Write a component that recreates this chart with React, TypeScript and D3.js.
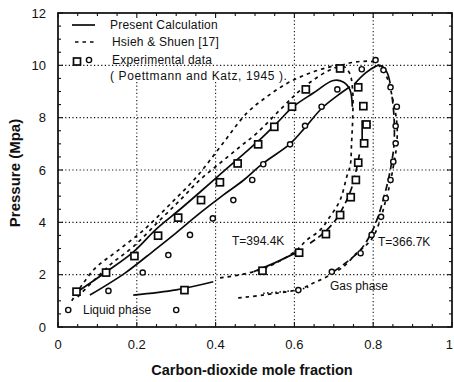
import React from "react";
import * as d3 from "d3";

const W = 454, H = 382;
const M = { left: 58, right: 452, top: 13, bottom: 327 };

const xTicks = [0, 0.2, 0.4, 0.6, 0.8, 1];
const xTickLabels = ["0", "0.2", "0.4", "0.6", "0.8", "1"];
const yTicks = [0, 2, 4, 6, 8, 10, 12];
const yTickLabels = ["0", "2", "4", "6", "8", "10", "12"];

// Experimental data, T = 394.4 K (squares)
const squares394: [number, number][] = [
  [0.047, 1.35], [0.122, 2.08], [0.194, 2.71], [0.254, 3.49], [0.305, 4.18], [0.363, 4.85],
  [0.411, 5.53], [0.456, 6.25], [0.508, 6.98], [0.549, 7.65], [0.594, 8.42], [0.629, 9.08],
  [0.716, 9.88], [0.762, 9.16], [0.775, 8.44], [0.783, 7.74], [0.777, 7.02], [0.762, 6.28],
  [0.756, 5.62], [0.743, 4.96], [0.716, 4.28], [0.68, 3.55], [0.612, 2.84], [0.519, 2.15],
  [0.321, 1.41],
];
// Experimental data, T = 366.7 K (circles)
const circles367: [number, number][] = [
  [0.026, 0.65], [0.128, 1.38], [0.215, 2.08], [0.28, 2.75], [0.335, 3.52], [0.393, 4.15],
  [0.445, 4.85], [0.493, 5.62], [0.521, 6.22], [0.589, 6.98], [0.627, 7.69], [0.669, 8.42],
  [0.709, 9.08], [0.771, 9.85], [0.806, 10.2], [0.826, 9.82], [0.844, 9.16], [0.86, 8.42],
  [0.857, 7.68], [0.857, 7.02], [0.851, 6.32], [0.844, 5.62], [0.832, 4.92], [0.82, 4.21],
  [0.796, 3.52], [0.768, 2.82], [0.695, 2.11], [0.61, 1.41], [0.3, 0.65],
];

// Present calculation (solid)
const pc394Bubble: [number, number][] = [
  [0.04, 1.25], [0.122, 2.1], [0.19, 2.85], [0.25, 3.75], [0.31, 4.5], [0.36, 5.15],
  [0.42, 5.95], [0.47, 6.6], [0.508, 7.1], [0.556, 7.8], [0.597, 8.42], [0.648, 8.94],
  [0.699, 9.42], [0.724, 9.36], [0.741, 9.06], [0.747, 8.42],
];
const pc394DewTop: [number, number][] = [[0.772, 7.9], [0.772, 7.15]];
const pc394DewMid: [number, number][] = [
  [0.765, 6.6], [0.757, 6.0], [0.745, 5.3], [0.728, 4.7], [0.705, 4.1], [0.675, 3.6], [0.64, 3.2],
];
const pc394DewLow: [number, number][] = [[0.496, 2.11], [0.55, 2.45], [0.612, 2.9]];
const pc394DewEnd: [number, number][] = [[0.191, 1.22], [0.3, 1.42], [0.394, 1.73]];
const pc367Bubble: [number, number][] = [
  [0.081, 1.22], [0.17, 2.06], [0.245, 2.94], [0.3, 3.6], [0.36, 4.35], [0.42, 5.05],
  [0.47, 5.6], [0.52, 6.25], [0.589, 7.0], [0.627, 7.62], [0.669, 8.35], [0.71, 8.85],
  [0.741, 9.18],
];
const pc367Top: [number, number][] = [
  [0.754, 9.31], [0.78, 9.7], [0.805, 9.95], [0.817, 10.0], [0.834, 9.76], [0.843, 9.31],
];
const pc367Dew: [number, number][] = [
  [0.848, 8.8], [0.853, 8.0], [0.853, 7.0], [0.847, 6.3], [0.838, 5.6], [0.826, 4.9],
  [0.812, 4.2], [0.792, 3.5], [0.765, 2.9], [0.73, 2.45], [0.7, 2.12],
];
const pc367Gas: [number, number][] = [[0.521, 1.29], [0.57, 1.35], [0.61, 1.42], [0.64, 1.55]];

// Hsieh & Shuen (dashed)
const hsA: [number, number][] = [
  [0.035, 1.0], [0.09, 2.18], [0.15, 2.9], [0.217, 3.7], [0.285, 4.7], [0.352, 5.74],
  [0.415, 6.95], [0.479, 8.17], [0.53, 8.8], [0.58, 9.3], [0.63, 9.65], [0.68, 9.9],
  [0.72, 10.0], [0.74, 9.7], [0.748, 9.0], [0.748, 8.0], [0.745, 7.0], [0.742, 6.2],
  [0.733, 5.75], [0.716, 4.85], [0.69, 4.21], [0.665, 3.7], [0.631, 3.32], [0.606, 2.94],
  [0.56, 2.5], [0.52, 2.22], [0.47, 2.02], [0.4, 1.85],
];
const hsB: [number, number][] = [
  [0.05, 1.15], [0.132, 2.37], [0.191, 3.07], [0.259, 4.09], [0.31, 4.85], [0.36, 5.62],
  [0.411, 6.26], [0.462, 6.89], [0.504, 7.4], [0.563, 8.29], [0.606, 8.93], [0.648, 9.44],
  [0.69, 9.82], [0.73, 10.05], [0.77, 10.15], [0.805, 10.1], [0.834, 9.56], [0.85, 8.67],
  [0.86, 7.8], [0.86, 7.0], [0.853, 6.3], [0.843, 5.5], [0.831, 4.8], [0.818, 4.1],
  [0.8, 3.45], [0.78, 3.1], [0.758, 2.82], [0.724, 2.3], [0.682, 1.92], [0.648, 1.68],
  [0.614, 1.45], [0.52, 1.22], [0.45, 1.1],
];

const legendRows = ["Present Calculation", "Hsieh & Shuen [17]", "Experimental data", "( Poettmann and Katz, 1945 )."];

export default function App() {
  const x = d3.scaleLinear().domain([0, 1]).range([M.left, M.right]);
  const y = d3.scaleLinear().domain([0, 12]).range([M.bottom, M.top]);
  const line = d3
    .line<[number, number]>()
    .x((d) => x(d[0]))
    .y((d) => y(d[1]))
    .curve(d3.curveCatmullRom.alpha(0.5));

  const solid = { stroke: "#0a0a0a", strokeWidth: 1.7, fill: "none" };
  const dashed = { stroke: "#0a0a0a", strokeWidth: 1.7, fill: "none", strokeDasharray: "3.5,4" };
  const dotted = { stroke: "#0a0a0a", strokeWidth: 1.5, fill: "none", strokeDasharray: "1.5,2.5" };
  const brokenSolid = { stroke: "#0a0a0a", strokeWidth: 1.7, fill: "none", strokeDasharray: "7,4" };

  const minorX = d3.range(0, 1.0001, 0.05);
  const minorY = d3.range(0, 12.0001, 0.5);
  const font = "Liberation Sans, Arial, sans-serif";

  return (
    <svg width={W} height={H} style={{ position: "absolute", left: 0, top: 0, background: "#fff" }}>
      <rect x={0} y={0} width={W} height={H} fill="#fff" />
      {/* grid */}
      <g stroke="#111" strokeWidth={1.1} strokeDasharray="1.2,2.4">
        {[2, 4, 6, 8, 10].map((v) => (
          <line key={"gy" + v} x1={M.left} x2={M.right} y1={y(v)} y2={y(v)} />
        ))}
        {[0.2, 0.4].map((v) => (
          <line key={"gx" + v} x1={x(v)} x2={x(v)} y1={82} y2={M.bottom} />
        ))}
        {[0.6, 0.8].map((v) => (
          <line key={"gx" + v} x1={x(v)} x2={x(v)} y1={M.top} y2={M.bottom} />
        ))}
      </g>

      {/* Hsieh & Shuen */}
      <path d={line(hsA) || ""} {...dashed} />
      <path d={line(hsB) || ""} {...dashed} />

      {/* Present calculation */}
      <path d={line(pc394Bubble) || ""} {...solid} />
      <path d={line(pc394DewTop) || ""} {...solid} />
      <path d={line(pc394DewMid) || ""} {...brokenSolid} />
      <path d={line(pc394DewLow) || ""} {...solid} />
      <path d={line(pc394DewEnd) || ""} {...solid} />
      <path d={line(pc367Bubble) || ""} {...solid} />
      <path d={line(pc367Top) || ""} {...solid} />
      <path d={line(pc367Dew) || ""} {...brokenSolid} />
      <path d={line(pc367Gas) || ""} {...dotted} />

      {/* markers */}
      {squares394.map((d, i) => (
        <rect key={"s" + i} x={x(d[0]) - 3.5} y={y(d[1]) - 3.5} width={7} height={7} fill="#fff" stroke="#0a0a0a" strokeWidth={1.7} />
      ))}
      {circles367.map((d, i) => (
        <circle key={"c" + i} cx={x(d[0])} cy={y(d[1])} r={2.6} fill="#fff" stroke="#0a0a0a" strokeWidth={1.4} />
      ))}

      {/* legend */}
      <g fontFamily={font} fontSize={12} fill="#111">
        <line x1={72} x2={95} y1={25} y2={25} {...solid} />
        <text x={110} y={29} letterSpacing={0.2}>{legendRows[0]}</text>
        <line x1={75} x2={96} y1={42} y2={42} {...dashed} />
        <text x={112} y={46} letterSpacing={0.2}>{legendRows[1]}</text>
        <rect x={73.5} y={58} width={7} height={7} fill="#fff" stroke="#0a0a0a" strokeWidth={1.7} />
        <circle cx={89} cy={60} r={2.6} fill="#fff" stroke="#0a0a0a" strokeWidth={1.4} />
        <text x={112} y={64} letterSpacing={0.2}>{legendRows[2]}</text>
        <text x={110} y={80} letterSpacing={0.6}>{legendRows[3]}</text>
      </g>

      {/* annotations */}
      <g fontFamily={font} fontSize={12} fill="#111">
        <text x={232} y={245}>T=394.4K</text>
        <text x={378} y={246}>T=366.7K</text>
        <text x={330} y={290}>Gas phase</text>
        <text x={83} y={314}>Liquid phase</text>
      </g>

      {/* frame and ticks */}
      <rect x={M.left} y={M.top} width={M.right - M.left} height={M.bottom - M.top} fill="none" stroke="#0a0a0a" strokeWidth={1.7} />
      <g stroke="#111" strokeWidth={1.1}>
        {minorX.map((v, i) => {
          const L = i % 4 === 0 ? 5 : 3;
          return (
            <g key={"tx" + i}>
              <line x1={x(v)} x2={x(v)} y1={M.bottom} y2={M.bottom - L} />
              <line x1={x(v)} x2={x(v)} y1={M.top} y2={M.top + L} />
            </g>
          );
        })}
        {minorY.map((v, i) => {
          const L = i % 4 === 0 ? 5 : 3;
          return (
            <g key={"ty" + i}>
              <line x1={M.left} x2={M.left + L} y1={y(v)} y2={y(v)} />
              <line x1={M.right} x2={M.right - L} y1={y(v)} y2={y(v)} />
            </g>
          );
        })}
      </g>

      {/* tick labels */}
      <g fontFamily={font} fontSize={13} fill="#111">
        {xTicks.map((v, i) => (
          <text
            key={"xl" + i}
            x={i === xTicks.length - 1 ? Math.min(x(v) + 1, W - 1) : x(v)}
            y={349}
            textAnchor={i === xTicks.length - 1 ? "end" : "middle"}
          >
            {xTickLabels[i]}
          </text>
        ))}
        {yTicks.map((v, i) => (
          <text key={"yl" + i} x={46} y={y(v) + 4.5} textAnchor="end">{yTickLabels[i]}</text>
        ))}
      </g>

      {/* axis titles */}
      <text x={252} y={375} textAnchor="middle" fontFamily={font} fontWeight="bold" fontSize={14.5} fill="#111">
        Carbon-dioxide mole fraction
      </text>
      <text
        transform={`translate(20,173) rotate(-90)`}
        textAnchor="middle"
        fontFamily={font}
        fontWeight="bold"
        fontSize={15}
        fill="#111"
      >
        Pressure (Mpa)
      </text>
    </svg>
  );
}
